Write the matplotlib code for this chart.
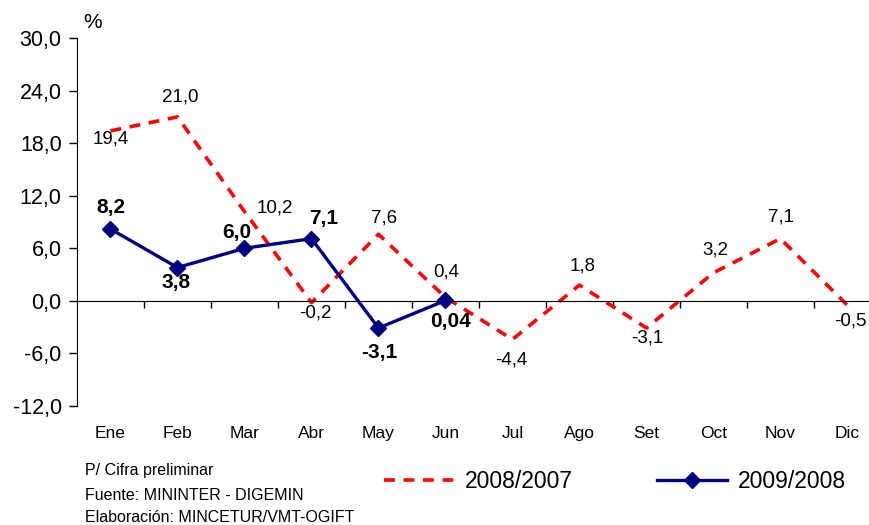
import numpy as np
import matplotlib.pyplot as plt

meses = ['Ene', 'Feb', 'Mar', 'Abr', 'May', 'Jun', 'Jul', 'Ago', 'Set', 'Oct', 'Nov', 'Dic']
serie_2008 = [19.4, 21.0, 10.2, -0.2, 7.6, 0.4, -4.4, 1.8, -3.1, 3.2, 7.1, -0.5]
serie_2009 = [8.2, 3.8, 6.0, 7.1, -3.1, 0.04]
etiq_2008 = ['19,4', '21,0', '10,2', '-0,2', '7,6', '0,4', '-4,4', '1,8', '-3,1', '3,2', '7,1', '-0,5']
etiq_2009 = ['8,2', '3,8', '6,0', '7,1', '-3,1', '0,04']
yticks = [-12, -6, 0, 6, 12, 18, 24, 30]

# desplazamientos de etiquetas (pixeles)
off_2008 = [(0, -8), (3, 20), (30, 3), (4, -10), (6, 16), (1, 25),
            (-1, -21), (3, 19), (1, -10), (2, 23), (1, 22), (3, -16)]
off_2009 = [(0, 22), (-1, -15), (-8, 16), (12, 20), (1, -24), (5, -21)]

plt.rcParams['font.family'] = ['Liberation Sans', 'DejaVu Sans']

fig = plt.figure(figsize=(8.7, 5.25), dpi=100)
ax = fig.add_axes([0.0885, 0.2267, 0.924, 0.7009])

x = np.arange(len(meses))
x9 = np.arange(len(serie_2009))

ax.plot(x, serie_2008, color='#ff0000', lw=2.6, dashes=(3.0, 2.4), label='2008/2007', zorder=2)
ax.plot(x9, serie_2009, color='#000080', lw=2.4, marker='D', markersize=8,
        label='2009/2008', zorder=3)

for xi, v, t, o in zip(x, serie_2008, etiq_2008, off_2008):
    ax.annotate(t, (xi, v), xytext=(o[0] * 0.72, o[1] * 0.72), textcoords='offset points',
                ha='center', va='center', fontsize=13.5)
for xi, v, t, o in zip(x9, serie_2009, etiq_2009, off_2009):
    ax.annotate(t, (xi, v), xytext=(o[0] * 0.72, o[1] * 0.72), textcoords='offset points',
                ha='center', va='center', fontsize=15, fontweight='bold')

ax.set_xlim(-0.5, 11.5)
ax.set_ylim(-12, 30)
ax.set_yticks(yticks)
ax.set_yticklabels([f'{v:.1f}'.replace('.', ',') for v in yticks], fontsize=15.5)
ax.tick_params(axis='y', direction='out', length=6, width=1, pad=5)

ax.spines['top'].set_visible(False)
ax.spines['right'].set_visible(False)
ax.spines['bottom'].set_position(('data', 0))
ax.set_xticks(np.arange(0.5, 11.5, 1))
ax.set_xticklabels([])
ax.tick_params(axis='x', direction='out', length=5, width=1)

for xi, m in zip(x, meses):
    ax.text(xi, -0.076, m, transform=ax.get_xaxis_transform(), ha='center', va='center',
            fontsize=12.5)

ax.text(0.019, 1.043, '%', transform=ax.transAxes, fontsize=15, ha='center', va='center')

fig.text(0.098, 0.095, 'P/ Cifra preliminar', fontsize=11.5)
fig.text(0.098, 0.047, 'Fuente: MININTER - DIGEMIN', fontsize=11.5)
fig.text(0.098, 0.006, 'Elaboración: MINCETUR/VMT-OGIFT', fontsize=11.5)

fig.legend(loc='center left', bbox_to_anchor=(0.418, 0.083), ncol=2, frameon=False,
           fontsize=16.5, handlelength=3.05, handletextpad=0.45, columnspacing=3.7)

fig.savefig('out.png', dpi=100)
